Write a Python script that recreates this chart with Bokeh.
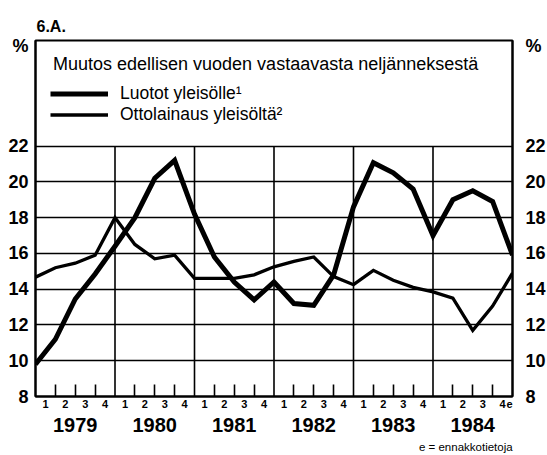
from bokeh.plotting import figure
from bokeh.models import (FixedTicker, LinearAxis, Label, Legend, LegendItem, Range1d)
from bokeh.embed import file_html
from bokeh.resources import INLINE

# ---- data ----
years = ["1979", "1980", "1981", "1982", "1983", "1984"]
quarter_names = ["1", "2", "3", "4"]
y_tick_values = [8, 10, 12, 14, 16, 18, 20, 22]

luotot = [9.8, 11.2, 13.45, 14.85, 16.4, 18.0, 20.2, 21.2, 18.2, 15.8, 14.4, 13.4,
          14.4, 13.2, 13.1, 14.8, 18.6, 21.07, 20.5, 19.6, 17.0, 19.0, 19.5, 18.9, 15.9]
ottolainaus = [14.67, 15.2, 15.45, 15.9, 18.0, 16.5, 15.7, 15.9, 14.6, 14.6, 14.6, 14.8,
               15.25, 15.55, 15.8, 14.7, 14.25, 15.05, 14.5, 14.1, 13.85, 13.5, 11.7, 13.05, 14.9]

label_luotot = "Luotot yleisölle¹"
label_otto = "Ottolainaus yleisöltä²"
chart_title = "Muutos edellisen vuoden vastaavasta neljänneksestä"
figure_id = "6.A."
unit = "%"
estimate_mark = "e"
note = "e = ennakkotietoja"

FONT = "Liberation Sans"

n_q = 4 * len(years)
xs = list(range(len(luotot)))

p = figure(frame_width=477, frame_height=356,
           x_range=Range1d(0, n_q), y_range=Range1d(8, 27.9),
           output_backend="svg", toolbar_location=None,
           min_border_left=35, min_border_right=35,
           min_border_top=40, min_border_bottom=59,
           background_fill_color="white", border_fill_color="white")

p.title.text = figure_id
p.title.align = "left"
p.title.offset = 1
p.title.standoff = 12
p.title.text_font = FONT
p.title.text_font_size = "16px"
p.title.text_font_style = "bold"
p.title.text_color = "black"

p.outline_line_color = "black"
p.outline_line_width = 2
p.outline_line_alpha = 1

p.xgrid.visible = False
p.ygrid.ticker = FixedTicker(ticks=y_tick_values[1:])
p.ygrid.grid_line_color = "black"
p.ygrid.grid_line_width = 1.5

# year boundary lines
bounds = [4 * i for i in range(1, len(years))]
p.segment(x0=bounds, y0=[y_tick_values[0]] * len(bounds),
          x1=bounds, y1=[y_tick_values[-1]] * len(bounds),
          line_color="black", line_width=1.6)

r1 = p.line(xs, luotot, line_color="black", line_width=5, line_join="miter")
r2 = p.line(xs, ottolainaus, line_color="black", line_width=3.3, line_join="miter")

legend = Legend(items=[LegendItem(label=label_luotot, renderers=[r1]),
                       LegendItem(label=label_otto, renderers=[r2])],
                location=(15, 271), glyph_width=58, glyph_height=19,
                label_height=19, spacing=0, padding=0, margin=0,
                label_standoff=12, label_text_font=FONT,
                label_text_font_size="17.5px", label_text_color="black",
                border_line_color=None, background_fill_alpha=0)
p.add_layout(legend, "center")

p.add_layout(Label(x=0.88, y=26.61, text=chart_title, text_font=FONT, text_font_size="18px",
                   text_baseline="alphabetic", text_color="black"))

# y axes (with the "%" unit shown at the top)
unit_pos = 27.6
y_overrides = {unit_pos: unit}


def style_y(ax, standoff):
    ax.ticker = FixedTicker(ticks=y_tick_values + [unit_pos])
    ax.major_label_overrides = y_overrides
    ax.major_tick_in = 0
    ax.major_tick_out = 0
    ax.minor_tick_line_color = None
    ax.major_tick_line_color = None
    ax.axis_line_color = "black"
    ax.axis_line_width = 2
    ax.major_label_standoff = standoff
    ax.major_label_text_font = FONT
    ax.major_label_text_font_style = "bold"
    ax.major_label_text_font_size = "18px"
    ax.major_label_text_color = "black"


style_y(p.yaxis[0], 7)
yr = LinearAxis()
style_y(yr, 13)
p.add_layout(yr, "right")

# quarter axis
xq = p.xaxis[0]
q_centers = [i + 0.5 for i in range(n_q)]
e_pos = n_q - 0.15
xq.ticker = FixedTicker(ticks=q_centers + [e_pos],
                        minor_ticks=[i for i in range(1, n_q) if i % 4])
q_over = {c: quarter_names[i % 4] for i, c in enumerate(q_centers)}
q_over[e_pos] = estimate_mark
xq.major_label_overrides = q_over
xq.major_tick_line_color = None
xq.major_tick_in = 0
xq.major_tick_out = 0
xq.minor_tick_in = 12
xq.minor_tick_out = 0
xq.minor_tick_line_width = 1.6
xq.minor_tick_line_color = "black"
xq.axis_line_color = "black"
xq.axis_line_width = 2
xq.major_label_standoff = 3
xq.major_label_text_font = FONT
xq.major_label_text_font_style = "bold"
xq.major_label_text_font_size = "11px"
xq.major_label_text_color = "black"

# year axis
y_centers = [4 * i + 2 for i in range(len(years))]
xy = LinearAxis(ticker=FixedTicker(ticks=y_centers))
xy.major_label_overrides = {c: years[i] for i, c in enumerate(y_centers)}
xy.axis_line_color = None
xy.major_tick_line_color = None
xy.minor_tick_line_color = None
xy.major_label_standoff = 1
xy.major_label_text_font = FONT
xy.major_label_text_font_style = "bold"
xy.major_label_text_font_size = "20px"
xy.major_label_text_color = "black"
p.add_layout(xy, "below")

# note axis
note_pos = 21.65
xn = LinearAxis(ticker=FixedTicker(ticks=[note_pos]))
xn.major_label_overrides = {note_pos: note}
xn.axis_line_color = None
xn.major_tick_line_color = None
xn.minor_tick_line_color = None
xn.major_label_standoff = 0
xn.major_label_text_font = FONT
xn.major_label_text_font_size = "11.5px"
xn.major_label_text_color = "black"
p.add_layout(xn, "below")

open("out.html", "w").write(file_html(p, INLINE))
